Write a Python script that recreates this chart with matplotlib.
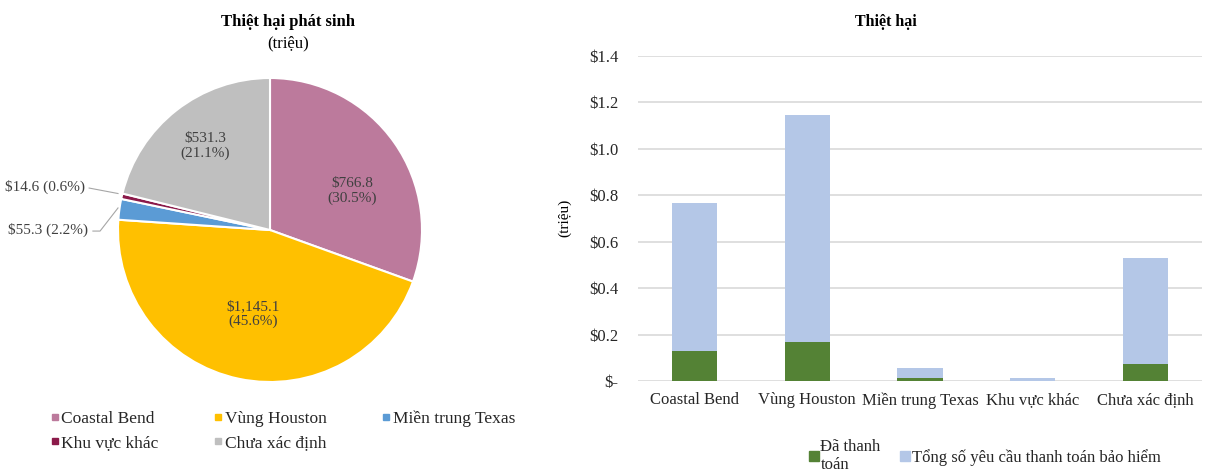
import numpy as np
import matplotlib
matplotlib.use("Agg")
import matplotlib.pyplot as plt
from matplotlib.lines import Line2D

plt.rcParams['font.family'] = ['Liberation Serif', 'DejaVu Serif']
serif = ['Liberation Serif', 'DejaVu Serif']

# dữ liệu
regions = ['Coastal Bend', 'Vùng Houston', 'Miền trung Texas', 'Khu vực khác', 'Chưa xác định']
losses = [766.8, 1145.1, 55.3, 14.6, 531.3]          # triệu
loss_labels = ['$766.8', '$1,145.1', '$55.3', '$14.6', '$531.3']
shares = [30.5, 45.6, 2.2, 0.6, 21.1]                # %
pie_colors = ['#BC7A9C', '#FFC000', '#5B9BD5', '#8B1A4A', '#BFBFBF']

paid = [0.13, 0.168, 0.015, 0.0, 0.075]
claims = [0.767, 1.145, 0.055, 0.015, 0.531]
yticks = [0, 0.2, 0.4, 0.6, 0.8, 1.0, 1.2, 1.4]
ytick_labels = ['$-', '$0.2', '$0.4', '$0.6', '$0.8', '$1.0', '$1.2', '$1.4']

W, H = 1225, 472
fig = plt.figure(figsize=(W / 100, H / 100), dpi=100)

# ---------- biểu đồ tròn ----------
cx, cy, r = 270, 230, 152
ax1 = fig.add_axes([(cx - r) / W, (H - cy - r) / H, 2 * r / W, 2 * r / H])
wedges, _ = ax1.pie(losses, colors=pie_colors, startangle=90, counterclock=False,
                    wedgeprops=dict(edgecolor='white', linewidth=1.5))
ax1.set_xlim(-1, 1)
ax1.set_ylim(-1, 1)
ax1.set_aspect('equal')

# nhãn bên trong
inner_pos = {0: (0.54, 0.257), 1: (-0.112, -0.553), 4: (-0.428, 0.553)}
for i, (tx, ty) in inner_pos.items():
    ax1.text(tx, ty, f'{loss_labels[i]}\n({shares[i]}%)', ha='center', va='center',
             fontsize=11, color='#404040', linespacing=1.2)

# nhãn bên ngoài + đường dẫn
ax1.text(-1.215, 0.283, f'{loss_labels[3]} ({shares[3]}%)', ha='right', va='center',
         fontsize=11, color='#404040')
ax1.plot([-1.19, -1.0], [0.276, 0.24], color='#A6A6A6', lw=0.8, clip_on=False)
ax1.text(-1.195, 0.0, f'{loss_labels[2]} ({shares[2]}%)', ha='right', va='center',
         fontsize=11, color='#404040')
ax1.plot([-1.165, -1.118, -1.0], [-0.007, -0.007, 0.145], color='#A6A6A6', lw=0.8, clip_on=False)

fig.text(288 / W, 1 - 22 / H, 'Thiệt hại phát sinh', ha='center', va='center',
         fontsize=12, fontweight='bold')
fig.text(288 / W, 1 - 43 / H, '(triệu)', ha='center', va='center', fontsize=12)

order = [0, 3, 1, 4, 2]
handles = [Line2D([], [], marker='s', ls='', color=pie_colors[i], markersize=4) for i in order]
fig.legend(handles, [regions[i] for i in order], ncol=3, loc='center',
           bbox_to_anchor=(283 / W, 1 - 431 / H), frameon=False,
           prop={'family': serif, 'size': 12.5},
           handlelength=0.4, handletextpad=0.2, columnspacing=3.2, labelspacing=0.45,
           borderpad=0, labelcolor='#262626')

# ---------- biểu đồ cột ----------
ax2 = fig.add_axes([638 / W, 1 - 381 / H, (1202 - 638) / W, (381 - 56) / H])
x = np.arange(len(regions))
ax2.bar(x, claims, width=0.4, color='#B4C7E7', zorder=2,
        label='Tổng số yêu cầu thanh toán bảo hiểm')
ax2.bar(x, paid, width=0.4, color='#548235', zorder=3, label='Đã thanh\ntoán')
ax2.set_xlim(-0.5, len(regions) - 0.5)
ax2.set_ylim(0, 1.4)
ax2.set_yticks(yticks)
ax2.set_yticklabels(ytick_labels)
ax2.set_xticks(x)
ax2.set_xticklabels(regions)
ax2.grid(axis='y', color='#D9D9D9', linewidth=1.2, zorder=0)
ax2.set_axisbelow(True)
for s in ax2.spines.values():
    s.set_visible(False)
ax2.tick_params(length=0, labelsize=12, colors='#262626')
ax2.tick_params(axis='y', pad=14)
ax2.tick_params(axis='x', pad=8)
fig.text(565 / W, 1 - 218 / H, '(triệu)', rotation=90, ha='center', va='center', fontsize=11)
fig.text(886 / W, 1 - 22 / H, 'Thiệt hại', ha='center', va='center',
         fontsize=11.5, fontweight='bold')

h, l = ax2.get_legend_handles_labels()
h2 = [Line2D([], [], marker='s', ls='', color='#548235', markersize=7),
      Line2D([], [], marker='s', ls='', color='#B4C7E7', markersize=7)]
fig.legend(h2, [l[1], l[0]], ncol=2, loc='center', bbox_to_anchor=(985 / W, 1 - 456 / H),
           frameon=False, prop={'family': serif, 'size': 12}, handlelength=0.5,
           handletextpad=0.15, columnspacing=1.2, borderpad=0, labelcolor='#262626')

fig.savefig('out.png', dpi=100)
